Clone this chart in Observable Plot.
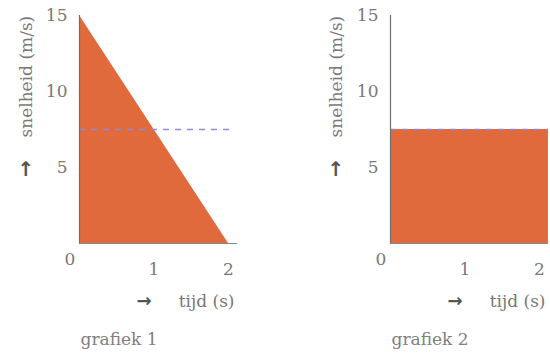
<!DOCTYPE html>
<html>
<head>
<meta charset="utf-8">
<script src="https://cdn.jsdelivr.net/npm/d3@7"></script>
<script src="https://cdn.jsdelivr.net/npm/@observablehq/plot@0.6"></script>
<style>
  html, body { margin: 0; padding: 0; background: #fff; }
  #grafieken { display: flex; width: 550px; height: 357px; overflow: hidden; }
  #grafieken svg { flex: none; }
</style>
</head>
<body>
<div id="grafieken"></div>
<script>
// grafiek 1: snelheid neemt gelijkmatig af van 15 m/s naar 0 in 2 s
const tijd1 = [0, 2];
const snelheid1 = [15, 0];
// grafiek 2: constante snelheid van 7,5 m/s (loopt door tot de rand)
const tijd2 = [0, 2.12];
const snelheid2 = [7.5, 7.5];
// gemiddelde snelheid (gestippelde lijn)
const gemiddelde = [7.5];

const yTicks = [5, 10, 15];
const xTicks = [1, 2];
const nulLabel = ["0"];
const yTitel = ["snelheid (m/s)"];
const xTitel = ["tijd (s)"];
const titels = ["grafiek 1", "grafiek 2"];

const oranje = "#e06a3b";
const paars = "#9088d8";
const asKleur = "#6e6e6e";
const asEinde = 2.12;

function grafiek({tijd, snelheid, titel, marginLeft, marginRight, stippelEinde, yDx}) {
  return Plot.plot({
    width: 275,
    height: 357,
    marginLeft,
    marginRight,
    marginTop: 15,
    marginBottom: 114,
    x: {domain: [0, 2]},
    y: {domain: [0, 15]},
    style: {
      fontFamily: "'DejaVu Serif', serif",
      fontSize: "17px",
      color: "#787878",
      background: "white",
      overflow: "visible"
    },
    marks: [
      Plot.areaY(tijd.map((t, i) => ({t, v: snelheid[i]})), {x: "t", y: "v", fill: oranje}),
      Plot.ruleY(gemiddelde, {x1: 0, x2: stippelEinde, stroke: paars, strokeWidth: 1.4, strokeDasharray: "6,6"}),
      Plot.ruleX([0], {y1: 0, y2: 15, stroke: asKleur, strokeWidth: 1.2}),
      Plot.ruleY([0], {x1: 0, x2: asEinde, stroke: "#8a8a8a", strokeWidth: 1.2}),
      Plot.axisY(yTicks, {tickSize: 0, tickPadding: 12, label: null}),
      Plot.axisX(xTicks, {tickSize: 0, tickPadding: 19, label: null}),
      Plot.text(nulLabel, {frameAnchor: "bottom-left", dx: -15, dy: 21}),
      // as-titels met pijlen
      Plot.text(yTitel, {frameAnchor: "top-left", dx: yDx, dy: 122, rotate: -90, textAnchor: "start"}),
      Plot.text(["\u2191"], {frameAnchor: "top-left", dx: yDx - 2, dy: 146, fontFamily: "'DejaVu Sans', sans-serif", fontWeight: "bold", fontSize: 20, fill: "#555"}),
      Plot.text(xTitel, {frameAnchor: "bottom-right", dx: 6, dy: 63, textAnchor: "end"}),
      Plot.text(["\u2192"], {frameAnchor: "bottom-right", dx: -77, dy: 63, fontFamily: "'DejaVu Sans', sans-serif", fontWeight: "bold", fontSize: 18, fill: "#555"}),
      // onderschrift
      Plot.text([titel], {frameAnchor: "bottom-left", dx: 1, dy: 101, textAnchor: "start", fill: "#808080"})
    ]
  });
}

const houder = document.getElementById("grafieken");
houder.append(
  grafiek({tijd: tijd1, snelheid: snelheid1, titel: titels[0], marginLeft: 79, marginRight: 47, stippelEinde: 2.07, yDx: -60}),
  grafiek({tijd: tijd2, snelheid: snelheid2, titel: titels[1], marginLeft: 115, marginRight: 11, stippelEinde: asEinde, yDx: -61})
);
</script>
</body>
</html>
